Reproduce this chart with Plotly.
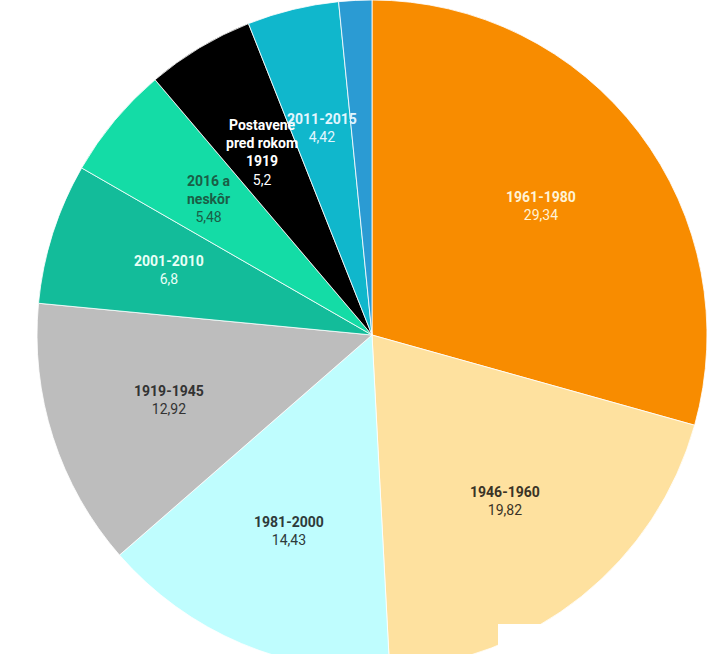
import math
import plotly.graph_objects as go

labels = ["1961-1980", "1946-1960", "1981-2000", "1919-1945", "2001-2010",
          "2016 a<br>neskôr", "Postavené<br>pred rokom<br>1919", "2011-2015", "Nezistené"]
values = [29.34, 19.82, 14.43, 12.92, 6.8, 5.48, 5.2, 4.42, 1.59]
colors = ["#F88C00", "#FEE19F", "#BFFDFE", "#BDBDBD", "#13BC9A",
          "#14DCA6", "#000000", "#10B7CC", "#2B9BD3"]
text_colors = ["#FFF3D6", "#3A3326", "#2E3A3A", "#333333", "#E8FFF6",
               "#1A5E46", "#FFFFFF", "#E2F6FF", None]

W, H = 744, 670
CX, CY, R = 372, 335, 335

fig = go.Figure(go.Pie(
    labels=labels,
    values=values,
    sort=False,
    direction="clockwise",
    rotation=0,
    marker=dict(colors=colors, line=dict(color="rgba(255,255,255,0.8)", width=1)),
    textinfo="none",
    hoverinfo="label+value",
    showlegend=False,
    domain=dict(x=[0, 1], y=[0, 1]),
))

total = sum(values)
cum = 0.0
annotations = []
for lab, v, tc in zip(labels, values, text_colors):
    mid = (cum + v / 2) / total * 2 * math.pi
    cum += v
    if tc is None:
        continue
    rr = 0.635 * R
    px = CX + rr * math.sin(mid)
    py = CY - rr * math.cos(mid)
    val = ("%g" % v).replace(".", ",")
    annotations.append(dict(
        x=px / W, y=1 - py / H, xref="paper", yref="paper",
        text="<b>%s</b><br>%s" % (lab, val),
        showarrow=False, xanchor="center", yanchor="middle",
        font=dict(family="Roboto", size=14, color=tc),
        align="center",
    ))

fig.update_layout(
    width=W, height=H,
    margin=dict(l=0, r=0, t=0, b=0),
    paper_bgcolor="white",
    font=dict(family="Roboto"),
    annotations=annotations,
    shapes=[dict(type="rect", xref="paper", yref="paper",
                 x0=498 / W, x1=1, y0=0, y1=1 - 624 / H,
                 fillcolor="white", line=dict(width=0), layer="above")],
)

fig.write_html(
    "out.html",
    config={"displayModeBar": False},
    post_script="document.body.style.margin='0';document.body.style.overflow='hidden';"
                "document.documentElement.style.overflow='hidden';",
)
